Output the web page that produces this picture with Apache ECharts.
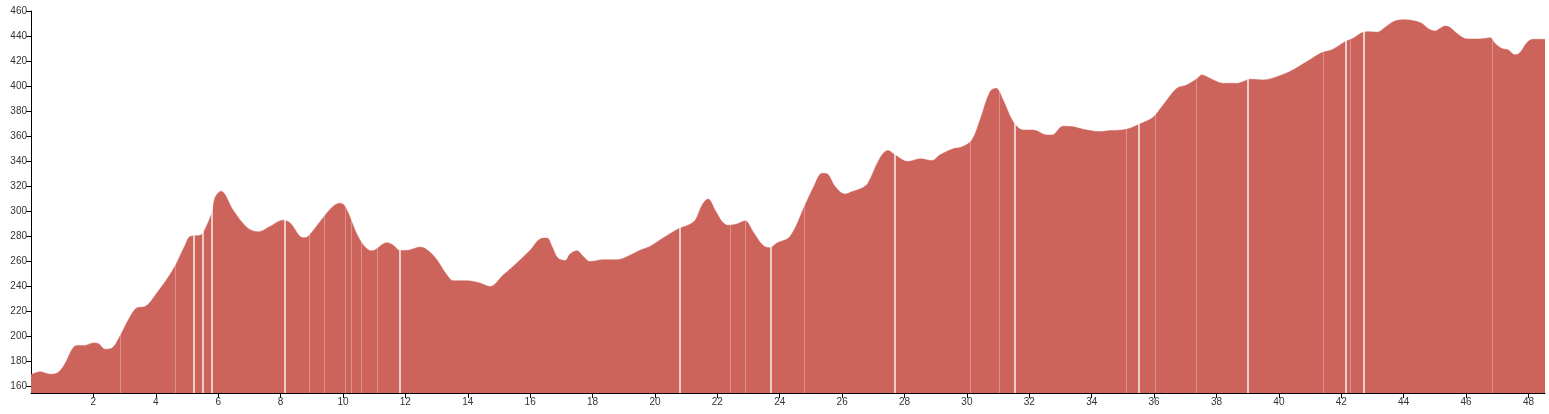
<!DOCTYPE html>
<html>
<head>
<meta charset="utf-8">
<script src="https://cdn.jsdelivr.net/npm/echarts@6/dist/echarts.min.js"></script>
<style>html,body{margin:0;padding:0;background:#fff}#c{width:1549px;height:414px}</style>
</head>
<body>
<div id="c"></div>
<script>
const distances = [0.00,0.29,0.61,0.84,1.03,1.48,1.73,1.99,2.15,2.38,2.60,2.79,3.18,3.40,3.66,4.04,4.55,4.94,5.10,5.42,5.52,5.80,5.90,6.09,6.48,6.93,7.28,7.66,8.08,8.30,8.72,8.88,9.27,9.68,9.91,10.07,10.55,10.93,11.41,11.61,11.83,12.09,12.47,12.89,13.34,13.53,13.98,14.39,14.71,15.13,15.45,16.00,16.32,16.54,16.70,16.89,17.12,17.28,17.50,17.70,17.92,18.34,18.79,19.20,19.52,19.84,20.26,20.74,21.06,21.29,21.51,21.70,21.93,22.15,22.34,22.63,22.89,23.14,23.46,23.69,23.91,24.33,24.81,25.07,25.36,25.52,25.77,26.09,26.35,26.67,26.83,27.21,27.47,27.70,28.11,28.50,28.88,29.13,29.52,29.87,30.16,30.42,30.74,30.93,31.16,31.48,31.80,32.12,32.57,32.73,33.08,33.37,33.72,34.27,34.59,34.97,35.23,35.55,35.96,36.29,36.73,37.05,37.37,37.53,37.85,38.20,38.65,38.85,39.07,39.49,39.94,40.35,40.90,41.38,41.70,42.12,42.38,42.70,42.92,43.14,43.46,43.72,44.04,44.36,44.59,44.78,45.01,45.16,45.32,45.48,45.71,46.03,46.45,46.77,46.93,47.15,47.34,47.57,47.73,47.95,48.15,48.53];
const elevations = [169.6,172,170,171,176,193,193,195,194.5,190,191,197.5,216,223,224,235,253.4,273,280,281,283,299,311,316,301,287,283.7,288,293,291,279,280,292,304,306.6,304,277,268.5,275,273,268.8,269,271.5,265,249,244.6,244.6,242.8,240,249,256,269,278,278.7,272,262.7,260.8,266,268.5,264,260,261.4,261.4,265,269,272,278.7,286,289,293,305,309.8,301,292,289,290,292.5,284,273,271,274.7,280,305,318.6,330.5,330,320,313.8,316,319,322.6,342.5,348.6,345,339.8,342,340.6,345,349.7,351.8,357,373,395.6,398.3,389,371.7,365,365,361,361,368,367.7,365.6,363.7,364.5,365,366.4,369.9,375,385,398.3,401,406,409,405.5,402.3,402.3,403.6,405.5,405,407.6,411.6,419.6,426.8,429,435.5,438.2,443,443.5,443,448,452,453,452,450,446,444,446,448,447,442,437.7,437.7,438.7,434,430,429,425,426.8,434.7,437.4,437.4];
const xTicks = [2,4,6,8,10,12,14,16,18,20,22,24,26,28,30,32,34,36,38,40,42,44,46,48];
const yTicks = [160,180,200,220,240,260,280,300,320,340,360,380,400,420,440,460];
const brightGaps = [5.23,5.52,5.79,8.14,11.83,20.79,23.71,27.70,31.53,35.52,39.01,42.14,42.71];
const faintGaps = [2.86,4.63,8.92,9.39,10.07,10.25,10.58,11.10,22.41,22.90,24.78,30.12,31.04,35.12,36.03,37.36,41.42,42.30,46.83];

const chart = echarts.init(document.getElementById('c'), null, {renderer:'canvas'});
const labelStyle = {color:'#333', fontSize:10, fontFamily:'Liberation Sans, Arial, sans-serif'};
const markData = brightGaps.map(v => ({xAxis: v, lineStyle:{color:'rgba(255,255,255,0.85)', width:1.6, type:'solid'}}))
  .concat(faintGaps.map(v => ({xAxis: v, lineStyle:{color:'rgba(255,255,255,0.3)', width:1, type:'solid'}})));
chart.setOption({
  animation:false,
  grid:{left:31, right:4, top:11, bottom:21},
  xAxis:{type:'value', min:0, max:48.53,
    axisLine:{lineStyle:{color:'#000', width:1}},
    axisTick:{show:true, length:5, lineStyle:{color:'#000'}, customValues:xTicks},
    axisLabel:{...labelStyle, margin:4, customValues:xTicks},
    splitLine:{show:false}},
  yAxis:{type:'value', min:155, max:460,
    axisLine:{show:true, lineStyle:{color:'#000', width:1}},
    axisTick:{show:true, length:5, lineStyle:{color:'#000'}, customValues:yTicks},
    axisLabel:{...labelStyle, margin:4, customValues:yTicks},
    splitLine:{show:false}},
  series:[{type:'line', data:distances.map((d,i)=>[d, elevations[i]]), smooth:0.35, showSymbol:false,
    lineStyle:{width:0.5, color:'#cc645c'}, areaStyle:{color:'#cc645c', opacity:1},
    markLine:{silent:true, symbol:['none','none'], label:{show:false}, lineStyle:{type:'solid'}, data:markData}}]
});
</script>
</body>
</html>
